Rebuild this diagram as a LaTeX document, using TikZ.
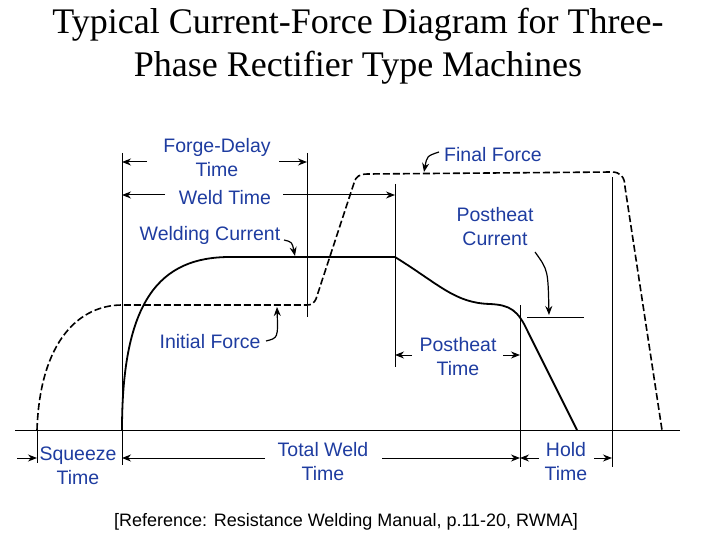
\documentclass[tikz,border=0pt]{standalone}
\usepackage{fontspec}
\setmainfont{Liberation Serif}
\newfontfamily\lab{Liberation Sans}
\usetikzlibrary{arrows.meta}
\definecolor{lblue}{RGB}{30,60,160}
\begin{document}
\begin{tikzpicture}[x=1pt,y=-1pt,
  lbl/.style={font=\lab\fontsize{19.5}{24}\selectfont,text=lblue,align=center,inner sep=1pt},
  dim/.style={line width=1pt,-{Stealth[length=9pt,width=7pt]}},
  ln/.style={line width=1pt},
  curve/.style={line width=1.8pt},
  frc/.style={line width=1.6pt,dash pattern=on 7pt off 3pt},
  pt/.style={line width=1.2pt,-{Stealth[length=9pt,width=7pt]}}]
\useasboundingbox (0,0) rectangle (720,540);
\node[font=\fontsize{36}{43}\selectfont,align=center] (title) at (358,46) {Typical Current-Force Diagram for Three-\\Phase Rectifier Type Machines};
% baseline
\coordinate (b0) at (15,430); \coordinate (b1) at (680,430);
\draw[ln] (b0) -- (b1);
% vertical lines
\coordinate (v1t) at (122,153); \coordinate (v1b) at (122,465);
\coordinate (v2t) at (307,153); \coordinate (v2b) at (307,317);
\coordinate (v3t) at (395,184); \coordinate (v3b) at (395,367);
\coordinate (v4t) at (520,305); \coordinate (v4b) at (520,467);
\coordinate (v5t) at (612,177); \coordinate (v5b) at (612,467);
\coordinate (v0t) at (37,430); \coordinate (v0b) at (37,463);
\foreach \a/\b in {v1t/v1b,v2t/v2b,v3t/v3b,v4t/v4b,v5t/v5b,v0t/v0b} \draw[ln] (\a) -- (\b);
% current curve
\draw[curve] (122,430) .. controls (122,300) and (160,257) .. (230,257) -- (395,257)
  .. controls (440,285) and (455,303) .. (490,304) .. controls (510,305) and (518,310) .. (528,332) -- (577,430);
\draw[ln] (527,317) -- (584,317);
% force curve
\draw[frc] (37,430) .. controls (40,340) and (80,305) .. (122,305) -- (307,305)
  .. controls (312,305) and (314,303) .. (316,299) -- (354,183) .. controls (356,176) and (360,174) .. (368,174)
  -- (612,172) .. controls (620,172) and (625,177) .. (625,187) -- (662,430);
% labels
\node[lbl] (fd) at (217,158) {Forge-Delay\\Time};
\coordinate (fdl) at (122,162); \coordinate (fdr) at (307,162);
\draw[dim] (147,162) -- (fdl); \draw[dim] (279,162) -- (fdr);
\node[lbl] (wt) at (225,198) {Weld Time};
\coordinate (wtl) at (122,195); \coordinate (wtr) at (395,195);
\draw[dim] (165,195) -- (wtl); \draw[dim] (283,195) -- (wtr);
\node[lbl] (wc) at (210,235) {Welding Current};
\coordinate (wca) at (295,256);
\draw[pt] (284,240) .. controls (292,242) .. (wca);
\node[lbl] (ff) at (493,155) {Final Force};
\coordinate (ffa) at (424,172);
\draw[pt] (439,152) .. controls (427,156) .. (ffa);
\node[lbl] (pc) at (495,227) {Postheat\\Current};
\coordinate (pca) at (549,315);
\draw[pt] (535,252) .. controls (548,270) .. (pca);
\node[lbl] (ptm) at (458,357) {Postheat\\Time};
\coordinate (ptl) at (395,355); \coordinate (ptr) at (520,355);
\draw[dim] (412,355) -- (ptl); \draw[dim] (503,355) -- (ptr);
\node[lbl] (if) at (210,342) {Initial Force};
\coordinate (ifa) at (277,307);
\draw[pt] (266,341) .. controls (278,338) .. (ifa);
\node[lbl] (tw) at (323,462) {Total Weld\\Time};
\coordinate (twl) at (122,458); \coordinate (twr) at (520,458);
\draw[dim] (265,458) -- (twl); \draw[dim] (382,458) -- (twr);
\node[lbl] (ht) at (566,462) {Hold\\Time};
\coordinate (htl) at (520,458); \coordinate (htr) at (612,458);
\draw[dim] (539,458) -- (htl); \draw[dim] (594,458) -- (htr);
\node[lbl] (sq) at (78,466) {Squeeze\\Time};
\coordinate (sqr) at (37,458);
\draw[dim] (17,458) -- (sqr);
\node[font=\lab\fontsize{18}{22}\selectfont,inner sep=1pt] (ref) at (346,522) {[Reference: Resistance Welding Manual, p.11-20, RWMA]};
\end{tikzpicture}
\end{document}
